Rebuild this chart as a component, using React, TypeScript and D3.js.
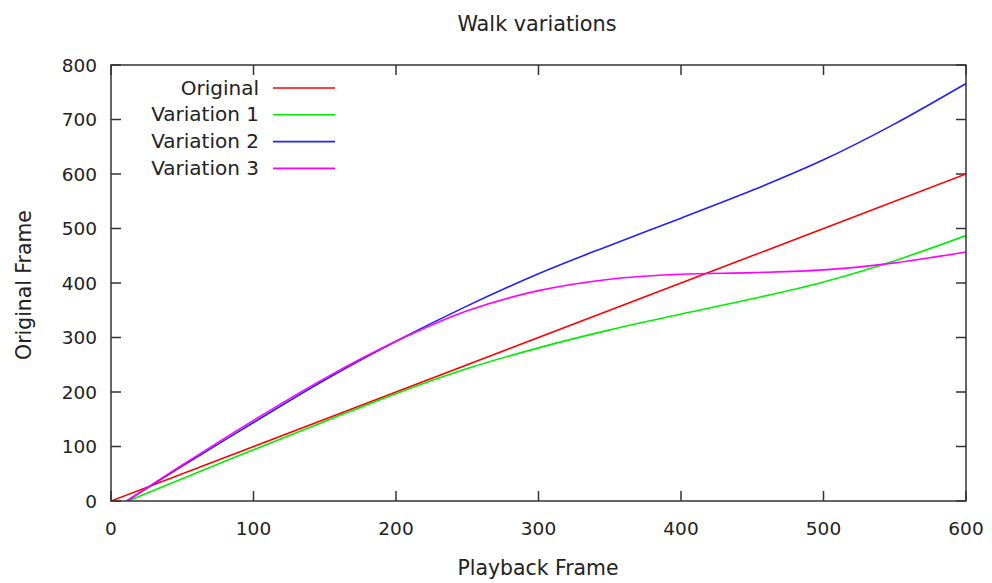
import React from 'react';
import * as d3 from 'd3';

const title = 'Walk variations';
const xLabel = 'Playback Frame';
const yLabel = 'Original Frame';
const xTicks = [0, 100, 200, 300, 400, 500, 600];
const yTicks = [0, 100, 200, 300, 400, 500, 600, 700, 800];

const seriesNames = ['Original', 'Variation 1', 'Variation 2', 'Variation 3'];
const seriesColors = ['#ff0000', '#00ee00', '#2020ff', '#ff00ff'];

const originalX = [0, 600];
const originalY = [0, 600];
const var1X = [12, 50, 100, 150, 200, 250, 300, 350, 400, 450, 500, 550, 600];
const var1Y = [0, 41, 94, 146, 197, 243, 281, 314, 343, 371, 402, 441, 487];
const var2X = [11, 50, 100, 150, 200, 250, 300, 350, 400, 450, 500, 550, 600];
const var2Y = [0, 64, 144, 222, 293, 358, 417, 469, 519, 570, 626, 692, 766];
const var3X = [11, 50, 100, 150, 200, 250, 300, 350, 400, 450, 500, 550, 600];
const var3Y = [0, 66, 148, 225, 293, 349, 386, 407, 416, 419, 424, 437, 457];

const W = 992, H = 583;
const L = 111, R = 966, T = 65, B = 501;
const FONT = 'DejaVu Sans';
const TXT = '#222';

export default function App() {
  const x = d3.scaleLinear().domain([0, 600]).range([L, R]);
  const y = d3.scaleLinear().domain([0, 800]).range([B, T]);
  const line = d3.line<[number, number]>().x(d => x(d[0])).y(d => y(d[1])).curve(d3.curveCatmullRom.alpha(0.5));
  const series = [
    d3.zip(originalX, originalY),
    d3.zip(var1X, var1Y),
    d3.zip(var2X, var2Y),
    d3.zip(var3X, var3Y),
  ] as [number, number][][];
  const tl = 10;
  return (
    <svg width={W} height={H} style={{ position: 'fixed', left: 0, top: 0, background: '#fff' }} fontFamily={FONT}>
      <rect x={0} y={0} width={W} height={H} fill="#fff" />
      <defs>
        <clipPath id="plot"><rect x={L} y={T} width={R - L} height={B - T} /></clipPath>
      </defs>
      {xTicks.map(t => (
        <g key={'x' + t}>
          <line x1={x(t)} x2={x(t)} y1={B} y2={B - tl} stroke="#333" strokeWidth={1.5} />
          <line x1={x(t)} x2={x(t)} y1={T} y2={T + tl} stroke="#333" strokeWidth={1.5} />
          <text x={x(t)} y={535} textAnchor="middle" fontSize={18.5} fill={TXT}>{t}</text>
        </g>
      ))}
      {yTicks.map(t => (
        <g key={'y' + t}>
          <line x1={L} x2={L + tl} y1={y(t)} y2={y(t)} stroke="#333" strokeWidth={1.5} />
          <line x1={R} x2={R - tl} y1={y(t)} y2={y(t)} stroke="#333" strokeWidth={1.5} />
          <text x={97} y={y(t) + 6.5} textAnchor="end" fontSize={18.5} fill={TXT}>{t}</text>
        </g>
      ))}
      <g clipPath="url(#plot)">
        {series.map((s, i) => (
          <path key={i} d={line(s) || ''} fill="none" stroke={seriesColors[i]} strokeWidth={1.6} />
        ))}
      </g>
      <rect x={L} y={T} width={R - L} height={B - T} fill="none" stroke="#333" strokeWidth={1.5} />
      {seriesNames.map((n, i) => {
        const ly = 88 + i * 26.8;
        return (
          <g key={n}>
            <text x={259} y={ly + 6.5} textAnchor="end" fontSize={20} fill={TXT}>{n}</text>
            <line x1={273} x2={335} y1={ly} y2={ly} stroke={seriesColors[i]} strokeWidth={1.6} />
          </g>
        );
      })}
      <text x={537} y={31} textAnchor="middle" fontSize={20.8} fill={TXT}>{title}</text>
      <text x={538} y={575} textAnchor="middle" fontSize={20.4} fill={TXT}>{xLabel}</text>
      <text transform={`translate(31,285) rotate(-90)`} textAnchor="middle" fontSize={20.4} fill={TXT}>{yLabel}</text>
    </svg>
  );
}
